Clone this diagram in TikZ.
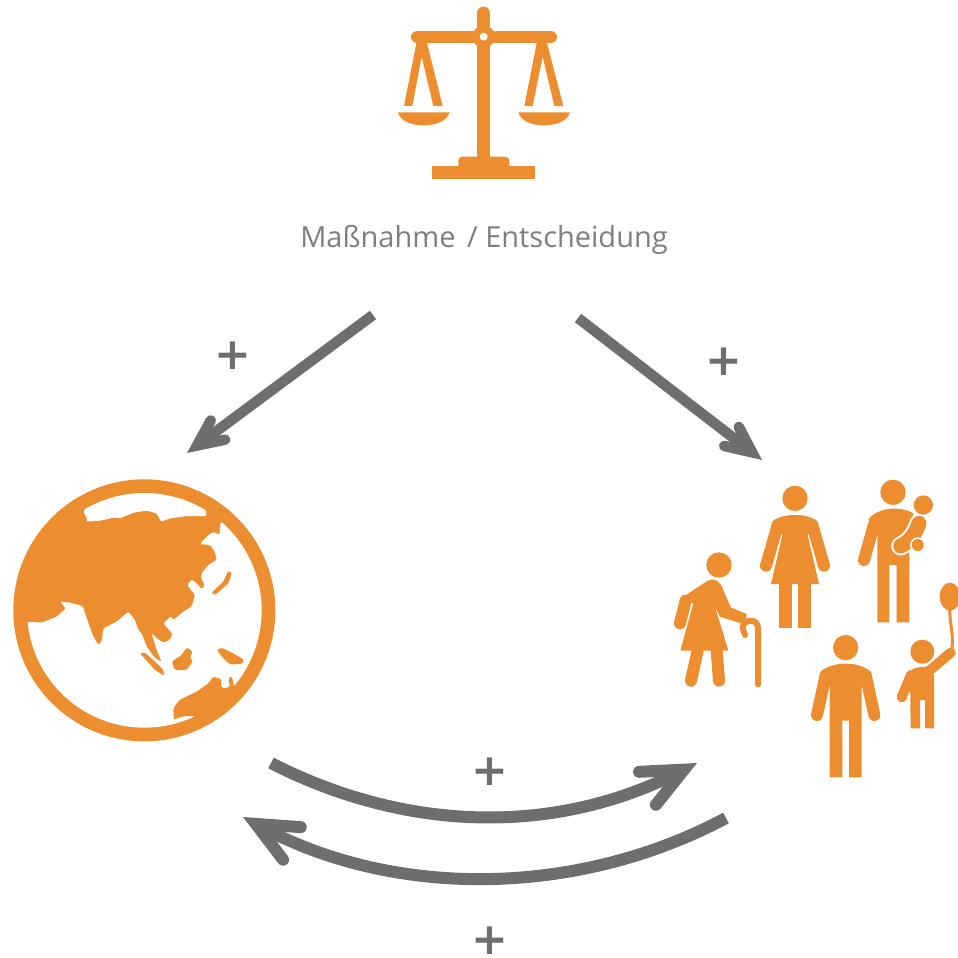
\documentclass[tikz,border=0pt]{standalone}
\usepackage{fontspec}
\setmainfont{Open Sans}
\newfontfamily\signfont{DejaVu Sans}
\usepackage{tikz}
\usetikzlibrary{arrows.meta}
\usetikzlibrary{positioning}
\definecolor{iconorange}{HTML}{EC8E2F}
\definecolor{arrowgray}{HTML}{6E6E6E}
\definecolor{textgray}{HTML}{7F7F7F}
\tikzset{
  icon/.style={fill=iconorange,draw=none},
  limb/.style={draw=iconorange,line cap=round,line join=round},
  link/.style={draw=arrowgray,line width=12pt,-{Straight Barb[length=41pt,width=37pt,line cap=round,line join=miter]}},
  shortlink/.style={draw=arrowgray,line width=10.5pt,-{Straight Barb[length=26pt,width=24pt,line cap=round,line join=miter]}},
  sign/.style={text=arrowgray,font=\fontsize{44}{44}\selectfont\signfont\bfseries,inner sep=0pt},
}
\begin{document}
\begin{tikzpicture}[x=1pt,y=-1pt]
  \useasboundingbox (0,0) rectangle (958,958);
  \fill[white] (0,0) rectangle (958,958);

  % scales
  \begin{scope}[shift={(380,0)},scale=1/3]
    \draw[limb,line width=12.7pt] (311,39) -- (311,480);
    \draw[limb,line width=12.7pt] (112,111) -- (512,111);
    \fill[icon] (311,110) circle (34);
    \fill[white] (311,110) circle (12);
    \fill[icon] (157,497) rectangle (466,537);
    \fill[icon,rounded corners=4pt] (235,510) -- (235,470) -- (388,470) -- (388,510) -- cycle;
    % hangers
    \fill[icon] (110,125) -- (72,318) -- (97,318) -- (125,170) -- (160,318) -- (188,318) -- (140,125) -- cycle;
    \fill[icon] (471,125) -- (433,318) -- (458,318) -- (488,170) -- (523,318) -- (550,318) -- (500,125) -- cycle;
    % pans
    \fill[icon] (54,337) -- (209,337) .. controls (200,365) and (165,376) .. (131,376) .. controls (97,376) and (62,365) .. (54,337) -- cycle;
    \fill[icon] (415,337) -- (570,337) .. controls (561,365) and (526,376) .. (492,376) .. controls (458,376) and (423,365) .. (415,337) -- cycle;
  \end{scope}

  \node[text=textgray,font=\fontsize{29}{32}\selectfont,inner sep=0pt] (massnahme) at (484,240) {Maßnahme\hspace{4pt} / Entscheidung};

  % globe
  \begin{scope}[shift={(0,470)},scale=1/3]
    \fill[icon] (433,421) circle (393);
    \begin{scope}
      \clip (433,421) circle (352);
      \fill[white,rounded corners=1.5pt] (250,125) -- (262,148) -- (258,155) -- (300,152) -- (345,142) -- (360,145) -- (400,128) -- (440,122) -- (470,130) -- (483,155) -- (510,145) -- (560,138) -- (620,138) -- (618,125) -- (600,40) -- (300,40) -- cycle;
      \fill[white,rounded corners=1.5pt] (662,155) -- (658,195) -- (640,185) -- (620,200) -- (600,222) -- (630,225) -- (645,245) -- (650,270) -- (625,285) -- (605,310) -- (603,325) -- (615,345) -- (605,358) -- (590,340) -- (575,328) -- (562,345) -- (585,375) -- (575,410) -- (550,425) -- (520,450) -- (513,438) -- (490,460) -- (517,490) -- (510,510) -- (490,518) -- (470,505) -- (455,490) -- (470,540) -- (485,575) -- (465,565) -- (440,530) -- (425,490) -- (415,480) -- (405,450) -- (385,425) -- (350,455) -- (310,475) -- (305,515) -- (295,525) -- (280,500) -- (255,430) -- (248,408) -- (210,398) -- (180,395) -- (198,415) -- (170,440) -- (125,458) -- (83,455) -- (60,800) -- (800,800) -- (800,200) -- cycle;
    \end{scope}
    % islands
    \fill[icon,rounded corners=1.5pt] (522,750) -- (520,715) -- (538,690) -- (590,665) -- (625,640) -- (640,620) -- (665,628) -- (662,650) -- (675,655) -- (690,650) -- (685,625) -- (695,618) -- (702,650) -- (720,680) -- (640,745) -- (590,750) -- (585,738) -- (555,738) -- (530,745) -- cycle;
    \fill[icon,rounded corners=1.5pt] (650,540) -- (665,533) -- (700,550) -- (733,570) -- (725,582) -- (690,583) -- (670,565) -- cycle;
    \fill[icon,rounded corners=1.5pt] (515,575) -- (545,555) -- (560,532) -- (578,545) -- (570,560) -- (578,575) -- (560,600) -- (525,600) -- cycle;
    \fill[icon,rounded corners=1pt] (420,550) -- (435,548) -- (465,575) -- (490,600) -- (492,617) -- (465,600) -- cycle;
    \fill[icon,rounded corners=1pt] (635,368) -- (670,335) -- (685,302) -- (695,310) -- (685,340) -- (645,375) -- cycle;
  \end{scope}

  % people
  \begin{scope}[shift={(665,470)},scale=1/3]
    % woman
    \fill[icon] (390,85) circle (38);
    \fill[icon] (322,155) .. controls (350,128) and (430,128) .. (458,155) -- (428,195) -- (462,342) -- (318,342) -- (352,195) -- cycle;
    \draw[limb,line width=12pt] (338,165) -- (303,287);
    \draw[limb,line width=12pt] (442,165) -- (477,287);
    \fill[icon] (343,340) rectangle (380,475);
    \fill[icon] (400,340) rectangle (438,475);
    % father and baby
    \fill[icon] (684,67) circle (38);
    \fill[icon] (610,148) .. controls (640,110) and (710,108) .. (745,130) -- (733,200) -- (733,457) -- (695,457) -- (695,285) -- (673,285) -- (673,457) -- (637,457) -- (637,190) -- cycle;
    \draw[limb,line width=12pt] (628,160) -- (597,270);
    \draw[draw=white,line cap=round,line width=19pt] (762,160) .. controls (752,190) and (735,215) .. (707,228);
    \draw[limb,line width=15pt] (762,160) .. controls (752,190) and (735,215) .. (707,228);
    \fill[white] (758,225) circle (23);
    \fill[icon] (758,225) circle (18);
    \fill[icon] (775,105) circle (29);
    % old woman
    \fill[icon] (162,285) circle (38);
    \fill[icon] (128,332) .. controls (145,322) and (165,332) .. (175,360) -- (197,412) -- (245,432) -- (240,464) -- (165,440) -- (150,410) -- (190,542) -- (46,542) -- (85,400) -- (70,395) -- (48,385) -- cycle;
    \draw[limb,line width=12pt] (62,392) -- (45,460);
    \draw[limb,line width=12pt] (98,542) -- (78,632);
    \draw[limb,line width=12pt] (155,542) -- (162,632);
    \draw[limb,line width=6pt] (279,643) -- (279,475) .. controls (279,445) and (240,445) .. (232,472) -- (240,495);
    % man
    \fill[icon] (542,533) circle (38);
    \fill[icon] (468,605) .. controls (500,573) and (585,573) .. (615,605) -- (590,650) -- (590,922) -- (552,922) -- (552,752) -- (532,752) -- (532,922) -- (494,922) -- (494,650) -- cycle;
    \draw[limb,line width=12pt] (482,615) -- (456,735);
    \draw[limb,line width=12pt] (602,615) -- (628,735);
    % child and balloon
    \fill[icon] (772,545) circle (36);
    \fill[icon] (735,605) .. controls (745,592) and (765,590) .. (800,590) -- (807,620) -- (807,775) -- (780,775) -- (780,690) -- (765,690) -- (765,775) -- (737,775) -- cycle;
    \draw[limb,line width=10pt] (738,615) -- (710,682);
    \draw[limb,line width=10pt] (790,605) -- (857,548);
    \draw[limb,line width=3pt] (855,415) .. controls (852,460) and (868,490) .. (860,540);
    \fill[icon] (855,380) ellipse (31 and 42);
  \end{scope}

  % arrows
  \coordinate (scaleleft) at (373,315);
  \coordinate (globetop) at (187,453);
  \coordinate (scaleright) at (578,318);
  \coordinate (crowdtop) at (762,460);
  \coordinate (globeout) at (271,763);
  \coordinate (crowdin) at (697,763);
  \coordinate (crowdout) at (726,818);
  \coordinate (globein) at (243,817);

  \draw[shortlink] (scaleleft) -- (globetop);
  \draw[shortlink] (scaleright) -- (crowdtop);
  \draw[link] (globeout) .. controls (410,834) and (558,834) .. (crowdin);
  \draw[link] (crowdout) .. controls (576,898) and (393,898) .. (globein);

  \node[sign] (plusleft) at (233,356) {+};
  \node[sign] (plusright) at (724,362) {+};
  \node[sign] (plustop) at (490,772) {+};
  \node[sign] (plusbottom) at (490,941) {+};
\end{tikzpicture}
\end{document}
